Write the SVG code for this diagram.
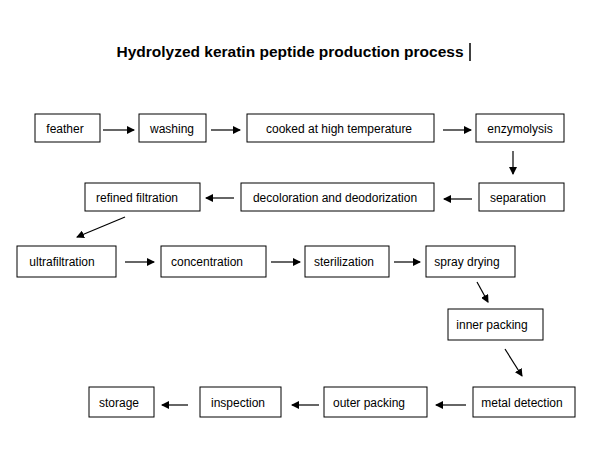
<svg xmlns="http://www.w3.org/2000/svg" width="600" height="463" viewBox="0 0 600 463">
<style>
rect{fill:#fff;stroke:#000;stroke-width:1}
text{font-family:"Liberation Sans",Arial,sans-serif;font-size:12px;fill:#000;text-anchor:middle}
.c line{stroke:#000;stroke-width:1.2;marker-end:url(#a)}
</style>
<defs><marker id="a" markerWidth="8" markerHeight="8" refX="7" refY="4" orient="auto" markerUnits="userSpaceOnUse"><path d="M0,0L8,4L0,8z" fill="#000"/></marker></defs>
<rect x="0" y="0" width="600" height="463" style="stroke:none"/>
<text x="290" y="57" style="font-size:15.5px;font-weight:bold">Hydrolyzed keratin peptide production process</text>
<line x1="470" y1="43" x2="470" y2="61" stroke="#000" stroke-width="1.5"/>
<g id="feather"><rect x="35" y="114" width="65" height="28"/><text x="65" y="133">feather</text></g>
<g id="washing"><rect x="139" y="114" width="67" height="28"/><text x="172" y="133">washing</text></g>
<g id="cooked"><rect x="247" y="114" width="187" height="28"/><text x="339" y="133">cooked at high temperature</text></g>
<g id="enzymolysis"><rect x="476" y="114" width="88" height="28"/><text x="520" y="133">enzymolysis</text></g>
<g id="separation"><rect x="479" y="183" width="85" height="28"/><text x="518" y="202">separation</text></g>
<g id="decoloration"><rect x="241" y="183" width="193" height="28"/><text x="335" y="202">decoloration and deodorization</text></g>
<g id="refined"><rect x="85" y="183" width="115" height="28"/><text x="137" y="202">refined filtration</text></g>
<g id="ultrafiltration"><rect x="17" y="246" width="99" height="31"/><text x="62" y="266">ultrafiltration</text></g>
<g id="concentration"><rect x="161" y="246" width="105" height="31"/><text x="207" y="266">concentration</text></g>
<g id="sterilization"><rect x="305" y="246" width="84" height="31"/><text x="344" y="266">sterilization</text></g>
<g id="spray"><rect x="426" y="246" width="89" height="31"/><text x="467" y="266">spray drying</text></g>
<g id="inner"><rect x="448" y="309" width="95" height="31"/><text x="492" y="329">inner packing</text></g>
<g id="metal"><rect x="473" y="387" width="102" height="30"/><text x="522" y="407">metal detection</text></g>
<g id="outer"><rect x="324" y="387" width="103" height="30"/><text x="369" y="407">outer packing</text></g>
<g id="inspection"><rect x="200" y="387" width="81" height="30"/><text x="238" y="407">inspection</text></g>
<g id="storage"><rect x="89" y="387" width="65" height="30"/><text x="119" y="407">storage</text></g>
<g class="c">
<line x1="103" y1="130" x2="134" y2="130"/>
<line x1="211" y1="130" x2="240" y2="130"/>
<line x1="443" y1="130" x2="471" y2="130"/>
<line x1="513" y1="151" x2="513" y2="174"/>
<line x1="472" y1="199" x2="444" y2="199"/>
<line x1="234" y1="198" x2="206" y2="198"/>
<line x1="125" y1="217" x2="77" y2="237"/>
<line x1="125" y1="262" x2="154" y2="262"/>
<line x1="271" y1="262" x2="300" y2="262"/>
<line x1="394" y1="262" x2="420" y2="262"/>
<line x1="477" y1="282" x2="488" y2="302"/>
<line x1="505" y1="349" x2="522" y2="376"/>
<line x1="466" y1="405" x2="436" y2="405"/>
<line x1="319" y1="405" x2="292" y2="405"/>
<line x1="188" y1="405" x2="162" y2="405"/>
</g>
</svg>
